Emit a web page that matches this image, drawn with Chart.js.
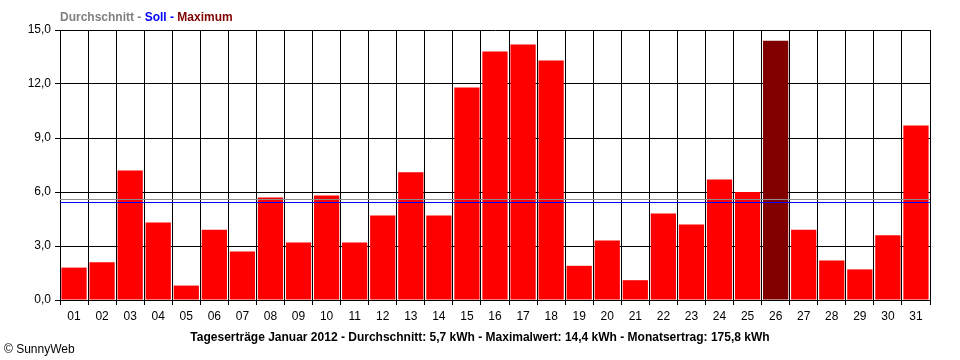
<!DOCTYPE html>
<html>
<head>
<meta charset="utf-8">
<script src="https://cdn.jsdelivr.net/npm/chart.js@4/dist/chart.umd.min.js"></script>
<style>
html,body{margin:0;padding:0;background:#fff;}
#wrap{width:960px;height:360px;position:relative;}
</style>
</head>
<body>
<div id="wrap"><canvas id="c" width="960" height="360"></canvas></div>
<script>
const days = ['01','02','03','04','05','06','07','08','09','10','11','12','13','14','15','16','17','18','19','20','21','22','23','24','25','26','27','28','29','30','31'];
const yields = [1.8,2.1,7.2,4.3,0.8,3.9,2.7,5.7,3.2,5.8,3.2,4.7,7.1,4.7,11.8,13.8,14.2,13.3,1.9,3.3,1.1,4.8,4.2,6.7,6.0,14.4,3.9,2.2,1.7,3.6,9.7];
const maxDayIndex = 25;
const averageValue = 5.6;
const sollValue = 5.43;
const yTicks = [0,3,6,9,12,15];
const legendParts = [['Durchschnitt - ','#808080'],['Soll - ','#0000FF'],['Maximum','#800000']];
const titleText = 'Tageserträge Januar 2012 - Durchschnitt: 5,7 kWh - Maximalwert: 14,4 kWh - Monatsertrag: 175,8 kWh';
const creditText = '© SunnyWeb';

const FONT = '"Liberation Sans", Arial, sans-serif';

const barColors = yields.map((v,i)=> i===maxDayIndex ? '#800000' : '#FF0000');

const overlay = {
  id:'overlay',
  afterDatasetsDraw(chart){
    const ctx = chart.ctx, a = chart.chartArea, y = chart.scales.y;
    ctx.save();
    [[averageValue,'#8c8c8c'],[sollValue,'#0000FF']].forEach(([v,c])=>{
      const py = Math.round(y.getPixelForValue(v)) + 0.5;
      ctx.strokeStyle = c; ctx.lineWidth = 1;
      ctx.beginPath(); ctx.moveTo(a.left, py); ctx.lineTo(a.right, py); ctx.stroke();
    });
    ctx.restore();
  },
  afterDraw(chart){
    const ctx = chart.ctx, a = chart.chartArea;
    ctx.save();
    ctx.textBaseline = 'alphabetic';
    ctx.font = 'bold 12px ' + FONT;
    let x = 60;
    legendParts.forEach(([t,c])=>{
      ctx.fillStyle = c; ctx.textAlign='left';
      ctx.fillText(t, x, 21);
      x += ctx.measureText(t).width;
    });
    ctx.fillStyle = '#000';
    ctx.textAlign = 'center';
    ctx.fillText(titleText, 480, 341);
    ctx.font = '12px ' + FONT;
    ctx.textAlign = 'left';
    ctx.fillText(creditText, 4, 353);
    ctx.restore();
  }
};

new Chart(document.getElementById('c'), {
  type:'bar',
  data:{
    labels: days,
    datasets:[{
      data: yields,
      backgroundColor: barColors,
      borderWidth: 0,
      barPercentage: 0.9,
      categoryPercentage: 1.0
    }]
  },
  options:{
    responsive:false,
    animation:false,
    devicePixelRatio:1,
    layout:{padding:{left:0,right:30,top:30,bottom:0}},
    plugins:{legend:{display:false},tooltip:{enabled:false},title:{display:false}},
    scales:{
      x:{
        offset:true,
        grid:{display:true,offset:true,color:'#000',lineWidth:1,tickLength:5,drawOnChartArea:true},
        border:{display:true,color:'#000',width:1},
        ticks:{color:'#000',font:{family:FONT,size:12},padding:4,maxRotation:0,autoSkip:false},
        afterFit(s){ s.height = 60; }
      },
      y:{
        min:0,max:15,
        afterBuildTicks(s){ s.ticks = yTicks.map(v=>({value:v})); },
        grid:{color:'#000',lineWidth:1,tickLength:5},
        border:{display:true,color:'#000',width:1},
        ticks:{color:'#000',font:{family:FONT,size:12},padding:4,
          callback:(v)=> v.toFixed(1).replace('.',',')},
        afterFit(s){ s.width = 60; }
      }
    }
  },
  plugins:[overlay]
});
</script>
</body>
</html>
